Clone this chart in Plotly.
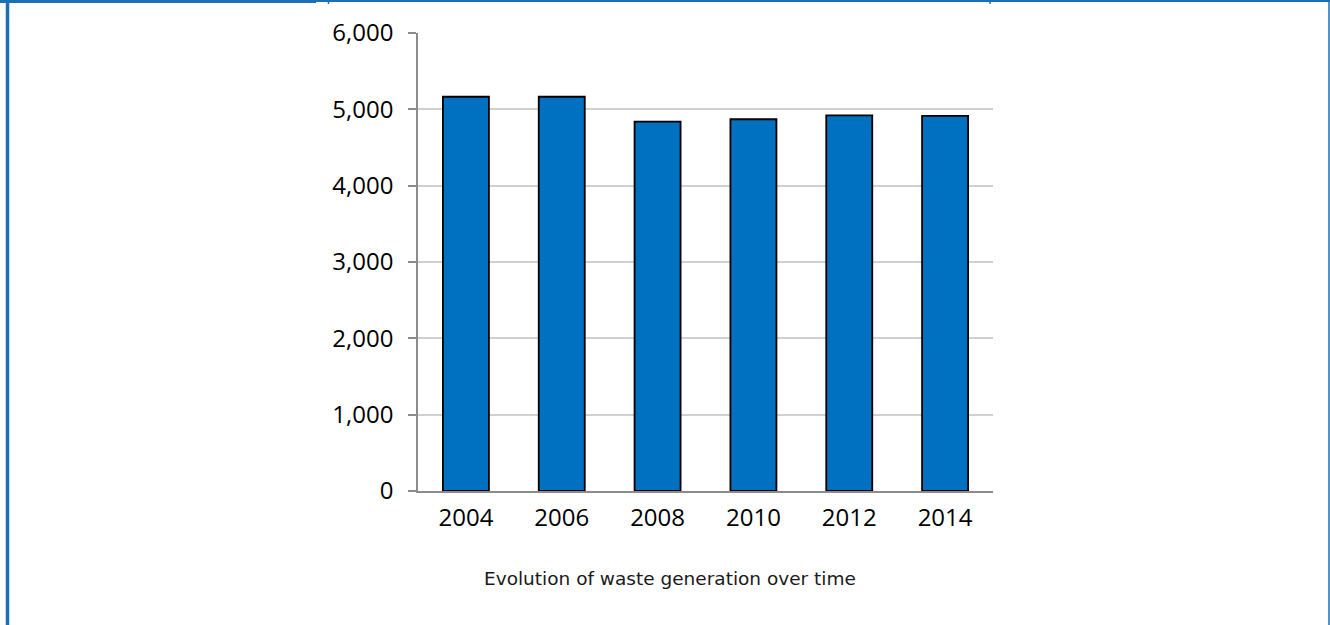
import plotly.graph_objects as go

years = ["2004", "2006", "2008", "2010", "2012", "2014"]
waste = [5165, 5165, 4838, 4870, 4922, 4913]
y_ticks = [0, 1000, 2000, 3000, 4000, 5000, 6000]
caption = "Evolution of waste generation over time"

W, H = 1330, 625

fig = go.Figure()
fig.add_trace(go.Bar(
    x=years, y=waste,
    marker=dict(color="#0070c0", line=dict(color="#000000", width=1.8)),
    width=0.48,
))

def px(x):
    return x / W

def py(y):
    return 1 - y / H

border = "#1b6fb4"
shapes = [
    dict(type="line", xref="paper", yref="paper", x0=px(7.5), x1=px(7.5), y0=0, y1=1,
         line=dict(color=border, width=3.5)),
    dict(type="line", xref="paper", yref="paper", x0=0, x1=px(316), y0=py(1.5), y1=py(1.5),
         line=dict(color=border, width=3)),
    dict(type="line", xref="paper", yref="paper", x0=px(316), x1=1, y0=py(1), y1=py(1),
         line=dict(color=border, width=2)),
    dict(type="line", xref="paper", yref="paper", x0=px(328.5), x1=px(328.5), y0=py(0), y1=py(4),
         line=dict(color=border, width=1.5)),
    dict(type="line", xref="paper", yref="paper", x0=px(990), x1=px(990), y0=py(0), y1=py(4),
         line=dict(color=border, width=1.5)),
    dict(type="line", xref="paper", yref="paper", x0=px(1329), x1=px(1329), y0=0, y1=py(1),
         line=dict(color=border, width=1.5)),
]

fig.update_layout(
    width=W, height=H,
    margin=dict(l=0, r=0, t=0, b=0, autoexpand=False),
    paper_bgcolor="white", plot_bgcolor="white",
    showlegend=False,
    bargap=0.52,
    font=dict(family="Open Sans", size=24, color="#000000"),
    xaxis=dict(
        domain=[px(418), px(993)],
        automargin=False,
        showline=True, linecolor="#8c8c8c", linewidth=1.5,
        ticks="", showgrid=False,
        tickfont=dict(family="Open Sans", size=24, color="#000000"),
        ticklabelstandoff=4,
    ),
    yaxis=dict(
        domain=[py(491), py(33)],
        automargin=False,
        range=[0, 6000],
        tickvals=y_ticks,
        tickformat=",",
        showline=True, linecolor="#8c8c8c", linewidth=1.5,
        ticks="outside", ticklen=8, tickcolor="#8c8c8c", tickwidth=1.5,
        showgrid=True, gridcolor="#d0d0d0", gridwidth=1.5,
        zeroline=False,
        tickfont=dict(family="Open Sans", size=24, color="#000000"),
        ticklabelstandoff=10,
    ),
    shapes=shapes,
    annotations=[dict(
        text=caption, xref="paper", yref="paper",
        x=px(670), y=py(578), xanchor="center", yanchor="middle",
        showarrow=False,
        font=dict(family="DejaVu Sans", size=18.5, color="#1a1a1a"),
    )],
)

fig.write_html("out.html")
